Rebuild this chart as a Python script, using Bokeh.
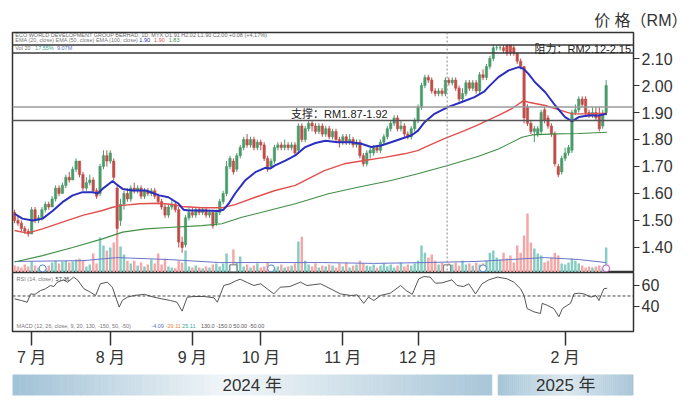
from bokeh.plotting import figure
from bokeh.layouts import column
from bokeh.models import Range1d, FixedTicker, Span, Label, ColumnDataSource, NumeralTickFormatter
from bokeh.embed import file_html
from bokeh.resources import INLINE

FONT = "Liberation Sans, Noto Sans CJK SC, sans-serif"
TXT = "#333333"

# ---------------- data ----------------
opens = [1.53,1.50,1.49,1.47,1.46,1.45,1.54,1.50,1.51,1.54,1.56,1.55,1.58,1.62,1.60,1.63,1.66,1.65,1.69,1.72,
         1.67,1.62,1.64,1.65,1.61,1.60,1.70,1.74,1.72,1.72,1.62,1.50,1.56,1.60,1.58,1.62,1.61,1.62,1.59,1.61,
         1.60,1.61,1.59,1.57,1.55,1.52,1.55,1.56,1.54,1.42,1.41,1.51,1.53,1.52,1.54,1.53,1.54,1.52,1.53,1.49,
         1.53,1.57,1.60,1.70,1.72,1.69,1.74,1.77,1.80,1.78,1.80,1.77,1.79,1.78,1.73,1.70,1.72,1.77,1.78,1.77,
         1.78,1.77,1.78,1.76,1.85,1.80,1.84,1.86,1.85,1.83,1.85,1.82,1.84,1.81,1.83,1.80,1.79,1.81,1.79,1.80,
         1.78,1.79,1.74,1.71,1.75,1.75,1.77,1.76,1.79,1.81,1.84,1.86,1.88,1.84,1.85,1.82,1.81,1.84,1.87,1.92,
         2.00,2.03,2.02,1.98,1.97,1.98,1.97,2.02,2.01,2.02,1.99,1.95,1.97,2.01,1.99,2.01,1.98,2.04,2.03,2.07,
         2.10,2.14,2.14,2.14,2.15,2.15,2.14,2.12,2.09,2.07,1.92,1.86,1.83,1.82,1.83,1.91,1.88,1.85,1.82,1.70,
         1.68,1.73,1.75,1.76,1.90,1.91,1.95,1.95,1.90,1.89,1.90,1.89,1.85,1.90]
highs = [1.54,1.52,1.50,1.48,1.47,1.55,1.55,1.52,1.55,1.57,1.57,1.59,1.63,1.63,1.64,1.67,1.68,1.70,1.73,1.72,
         1.68,1.66,1.67,1.66,1.62,1.71,1.76,1.76,1.76,1.73,1.63,1.58,1.61,1.62,1.63,1.64,1.63,1.63,1.62,1.62,
         1.62,1.62,1.60,1.58,1.56,1.56,1.58,1.57,1.55,1.44,1.52,1.55,1.55,1.55,1.55,1.55,1.55,1.54,1.54,1.54,
         1.58,1.61,1.72,1.74,1.73,1.75,1.78,1.81,1.82,1.81,1.81,1.80,1.80,1.79,1.74,1.73,1.78,1.79,1.79,1.80,
         1.79,1.79,1.79,1.86,1.86,1.85,1.87,1.87,1.86,1.86,1.86,1.85,1.85,1.84,1.84,1.81,1.82,1.82,1.82,1.81,
         1.80,1.80,1.75,1.76,1.77,1.78,1.78,1.80,1.82,1.85,1.87,1.89,1.89,1.87,1.86,1.83,1.85,1.88,1.93,2.01,
         2.04,2.04,2.03,1.99,1.99,1.99,2.03,2.03,2.03,2.03,2.00,1.99,2.02,2.02,2.02,2.02,2.05,2.06,2.08,2.11,
         2.15,2.15,2.15,2.15,2.15,2.15,2.15,2.12,2.10,2.07,1.93,1.87,1.85,1.85,1.91,1.92,1.89,1.86,1.83,1.71,
         1.74,1.77,1.78,1.91,1.93,1.96,1.96,1.96,1.91,1.92,1.92,1.92,1.91,2.02]
lows = [1.49,1.48,1.46,1.45,1.44,1.45,1.49,1.49,1.50,1.53,1.54,1.55,1.57,1.59,1.60,1.62,1.64,1.65,1.68,1.66,
        1.61,1.61,1.63,1.60,1.58,1.59,1.69,1.70,1.71,1.65,1.45,1.48,1.54,1.57,1.57,1.60,1.60,1.58,1.58,1.59,
        1.59,1.58,1.56,1.54,1.51,1.51,1.54,1.53,1.40,1.38,1.40,1.50,1.51,1.51,1.52,1.52,1.51,1.51,1.47,1.48,
        1.52,1.56,1.59,1.69,1.67,1.68,1.73,1.76,1.77,1.77,1.76,1.76,1.76,1.72,1.68,1.69,1.71,1.76,1.76,1.76,
        1.76,1.76,1.74,1.75,1.79,1.79,1.83,1.83,1.82,1.82,1.81,1.81,1.80,1.80,1.79,1.77,1.78,1.78,1.78,1.77,
        1.77,1.73,1.70,1.70,1.73,1.74,1.75,1.75,1.78,1.80,1.83,1.85,1.83,1.83,1.81,1.80,1.80,1.83,1.86,1.91,
        1.99,2.01,1.97,1.96,1.96,1.96,1.96,2.00,2.00,1.98,1.94,1.94,1.96,1.98,1.98,1.97,1.97,2.02,2.02,2.06,
        2.09,2.13,2.13,2.12,2.11,2.11,2.11,2.08,2.06,1.86,1.85,1.82,1.79,1.81,1.82,1.86,1.84,1.81,1.70,1.66,
        1.67,1.72,1.74,1.75,1.89,1.90,1.92,1.89,1.88,1.88,1.87,1.83,1.84,1.89]
closes = [1.50,1.49,1.47,1.46,1.45,1.54,1.50,1.51,1.54,1.56,1.55,1.58,1.62,1.60,1.63,1.66,1.65,1.69,1.72,1.67,
          1.62,1.64,1.65,1.61,1.59,1.70,1.74,1.72,1.75,1.66,1.47,1.56,1.60,1.58,1.62,1.61,1.62,1.59,1.61,1.60,
          1.61,1.59,1.57,1.55,1.52,1.55,1.56,1.54,1.42,1.40,1.51,1.53,1.52,1.54,1.53,1.54,1.52,1.53,1.48,1.53,
          1.57,1.60,1.70,1.73,1.68,1.74,1.77,1.80,1.78,1.80,1.77,1.79,1.78,1.73,1.69,1.72,1.77,1.78,1.77,1.78,
          1.77,1.78,1.75,1.85,1.80,1.84,1.86,1.85,1.83,1.85,1.82,1.84,1.81,1.83,1.80,1.79,1.81,1.79,1.80,1.78,
          1.79,1.74,1.71,1.75,1.76,1.77,1.76,1.79,1.81,1.84,1.86,1.88,1.84,1.85,1.82,1.81,1.84,1.87,1.92,2.00,
          2.03,2.02,1.98,1.97,1.98,1.97,2.02,2.01,2.02,1.99,1.95,1.97,2.01,1.99,2.01,1.98,2.04,2.03,2.07,2.10,
          2.14,2.14,2.14,2.13,2.12,2.12,2.12,2.09,2.07,1.88,1.86,1.83,1.84,1.84,1.90,1.87,1.85,1.82,1.71,1.67,
          1.73,1.75,1.77,1.90,1.91,1.95,1.93,1.90,1.89,1.90,1.88,1.84,1.89,2.00]
volumes = [2.5,2.2,1.8,2.9,2.2,4.0,2.5,1.8,2.2,1.5,2.5,3.6,4.3,3.3,4.0,4.3,3.6,4.0,4.7,5.1,
           4.3,2.2,2.9,6.9,3.3,12.7,9.8,8.0,9.1,10.9,14.1,9.4,6.5,4.3,3.3,4.3,2.5,3.6,2.2,2.9,
           4.7,3.3,6.9,2.9,5.1,2.2,1.8,1.5,4.3,3.6,8.0,2.2,1.8,2.5,1.8,1.5,2.2,1.8,2.9,3.3,
           2.2,3.3,6.9,2.9,8.3,3.6,5.8,2.2,2.9,1.8,2.5,3.3,1.8,2.2,3.6,2.5,1.8,2.2,2.9,1.8,
           2.2,2.5,3.3,11.2,13.0,4.3,2.9,2.2,3.3,1.8,2.5,2.2,2.9,2.5,1.8,3.3,2.2,3.6,1.8,2.5,
           2.9,4.3,3.3,2.5,2.2,2.9,1.8,2.5,3.3,2.2,2.9,1.8,2.5,3.6,2.2,2.9,2.5,3.3,4.3,9.8,
           7.2,5.4,6.5,4.3,2.9,3.6,2.5,3.3,2.9,3.6,2.5,4.3,2.9,3.3,2.5,3.6,2.9,3.3,4.3,7.2,
           8.0,5.4,4.7,7.2,5.1,6.2,3.6,9.8,7.2,13.4,21.4,10.9,8.7,6.9,6.2,3.6,4.3,5.4,7.2,6.2,
           3.3,2.9,3.6,5.1,4.3,3.3,2.5,1.8,2.2,1.8,2.2,2.5,1.8,9.07]

ema20_x = [0,2.3,5.3,8.2,11.1,14,17,19.9,22.8,24.3,25.7,28.7,29.6,31.6,34.5,38.4,42.3,45,48,49.4,
           50.9,54.8,59.6,61.1,62.6,64.5,67.4,70.4,73.3,74.8,76.2,79.2,82.1,85,88,90.9,94.5,98.4,101.4,104.3,
           107.2,110.1,113.1,116,118,119.9,122.8,126.7,130.6,134.5,137.4,138.6,141.5,144.5,147.4,148.8,150.3,152.2,155.2,158.1,
           161,163,165,167.9,170.8,173.2]
ema20_y = [1.525,1.507,1.500,1.507,1.535,1.568,1.593,1.605,1.605,1.600,1.617,1.646,1.636,1.617,1.611,1.611,1.593,1.586,1.562,1.540,
           1.537,1.537,1.535,1.540,1.562,1.600,1.648,1.679,1.695,1.693,1.704,1.722,1.741,1.772,1.787,1.795,1.790,1.790,1.784,1.772,
           1.778,1.790,1.803,1.815,1.833,1.864,1.895,1.920,1.938,1.957,1.978,1.995,2.031,2.056,2.068,2.062,2.043,2.012,1.975,1.926,
           1.883,1.867,1.883,1.889,1.889,1.895]
ema50_x = [0,3.8,8.2,14,19.9,25.7,28.7,31.6,36.5,42.3,46.2,48.9,54.8,60.6,64.5,70.4,76.2,82.1,88,90.6,
           96.4,102.3,108.2,114,117.9,119.9,125.7,131.6,135.7,137.4,141.5,145.4,148.8,150.3,155.2,160,163,166.9,173.2]
ema50_y = [1.463,1.453,1.469,1.494,1.519,1.537,1.549,1.556,1.562,1.564,1.559,1.552,1.547,1.547,1.559,1.586,1.611,1.630,1.668,1.685,
           1.710,1.722,1.734,1.747,1.759,1.771,1.803,1.833,1.855,1.865,1.889,1.914,1.944,1.938,1.926,1.907,1.895,1.895,1.897]
ema100_x = [0,8.2,17,25.7,31.6,38.4,46.2,54.8,60.6,66.5,74.3,82.1,91.8,100.4,110.1,117.9,126.7,135.7,141.5,148.4,
            151.3,158.1,165,173.2]
ema100_y = [1.346,1.370,1.400,1.432,1.457,1.469,1.475,1.481,1.488,1.512,1.537,1.562,1.599,1.623,1.648,1.673,1.704,1.738,1.765,1.808,
            1.817,1.821,1.822,1.827]

volma_x = [0,20,30,45,60,75,90,105,120,135,145,155,165,173]
volma_y = [4.0,4.3,5.4,4.7,3.6,3.6,3.6,3.3,3.6,4.0,4.7,5.4,4.7,3.6]

rsi_x = [0,2,3.7,4.7,6,7.6,9,10.5,11.5,12.5,14.4,15.5,17.3,18.5,20.3,22,23.7,25.1,27.1,28.6,
         29.6,30.6,31.5,33,35,38,40.7,43,45.6,47.5,49,50.5,52.5,55.5,58.3,59.3,61.2,63,64.6,66,
         68.1,70,72,73.9,75.8,77.7,80.5,83.6,85.5,89.5,93.4,95.3,98.3,100.2,102.1,103.5,105.1,107,109.9,112.9,
         114.5,116.3,118.2,119.7,121.5,123.1,125,127.9,129.4,131.3,132.8,133.8,134.8,136.7,138.7,141.2,144,146,148,149,
         149.9,151.9,153.8,154.3,155.8,157.7,159.2,160.2,161.6,162.6,163.6,165,166.5,168.5,170,170.9,172.3,173.3]
rsi_v = [47.3,45.7,44.1,52.0,51.6,55.2,56.8,60.0,59.0,63.2,65.4,63.0,68.0,65.0,56.8,54.0,50.5,61.6,63.2,58.4,
         48.9,39.4,45.7,48.9,50.5,51.6,48.9,47.3,45.7,44.1,35.6,48.9,49.5,49.5,48.3,44.1,60.0,61.6,64.3,66.0,
         62.7,60.0,61.6,56.8,52.0,58.4,59.0,63.2,60.0,61.6,55.2,52.0,50.5,51.0,43.0,48.9,45.7,50.5,52.7,60.0,
         55.2,51.6,66.3,68.5,68.0,62.2,62.5,65.4,60.0,59.0,61.6,57.0,52.0,61.6,65.4,68.0,66.4,63.2,56.8,50.5,
         38.0,34.9,33.3,43.0,41.1,38.0,30.2,38.0,41.1,43.0,52.0,52.7,52.0,48.9,50.5,45.7,56.8,57.4]

price_ticks = [1.40, 1.50, 1.60, 1.70, 1.80, 1.90, 2.00, 2.10]
rsi_ticks = [40, 60]
month_ticks = [5, 28, 52, 72, 96, 118, 161]
month_labels = ["7 月", "8 月", "9 月", "10 月", "11 月", "12 月", "2 月"]
resistance = [2.12, 2.15]
support = [1.87, 1.92]
marker_x = [8.2, 64, 75, 126.5, 137, 173]
marker_kind = ["circle", "square", "circle", "square", "circle", "circle"]
marker_color = ["#5b7fd0", "#777777", "#5b7fd0", "#777777", "#5b7fd0", "#c050c0"]
event_line_x = 126.5
year_labels = ["2024 年", "2025 年"]
year_start = [-0.6, 141.4]
year_end = [139.6, 181.0]

assert len(opens) == len(highs) == len(lows) == len(closes) == len(volumes)

# ---------------- derived ----------------
idx = list(range(len(closes)))
up = [c >= o for o, c in zip(opens, closes)]
ccol = ["#4a9a6a" if u else "#c04d48" for u in up]
vcol = ["#86ccc3" if u else "#f4a7a6" for u in up]
src = ColumnDataSource(dict(
    x=idx, h=highs, l=lows,
    top=[max(o, c) for o, c in zip(opens, closes)],
    bot=[min(o, c) for o, c in zip(opens, closes)],
    col=ccol, vol=volumes, vcol=vcol))

x_rng = Range1d(-0.6, 181.0)


def base_style(f):
    f.grid.visible = False
    f.background_fill_color = "white"
    f.border_fill_color = "white"
    f.outline_line_color = "#333333"
    f.outline_line_width = 1.5


def right_axis(ax, ticks):
    ax.ticker = FixedTicker(ticks=ticks)
    ax.axis_line_color = None
    ax.major_tick_line_color = TXT
    ax.major_tick_line_width = 1.2
    ax.major_tick_out = 6
    ax.major_tick_in = 0
    ax.minor_tick_line_color = None
    ax.major_label_standoff = 2
    ax.major_label_text_font = FONT
    ax.major_label_text_font_size = "16px"
    ax.major_label_text_color = TXT


# ---------------- price + volume ----------------
p = figure(width=690, height=272, x_range=x_rng, y_range=Range1d(1.3074, 2.1963),
           output_backend="svg", toolbar_location=None,
           x_axis_location=None, y_axis_location="right",
           min_border_left=12, min_border_right=57, min_border_top=32, min_border_bottom=0)
base_style(p)
p.extra_y_ranges = {"vol": Range1d(0, 87)}
right_axis(p.yaxis[0], price_ticks)
p.yaxis[0].formatter = NumeralTickFormatter(format="0.00")

p.title.text = "价 格（RM）"
p.title.align = "right"
p.title.offset = -54
p.title.standoff = 8
p.title.text_font = FONT
p.title.text_font_size = "16px"
p.title.text_font_style = "normal"
p.title.text_color = TXT

# volume
p.vbar(x="x", width=0.72, top="vol", bottom=0, y_range_name="vol",
       fill_color="vcol", line_color=None, source=src)
p.line(volma_x, volma_y, y_range_name="vol", line_color="#6a73c8", line_width=1)
for mx, mk, mc in zip(marker_x, marker_kind, marker_color):
    p.scatter([mx], [1.5], marker=mk, size=7, y_range_name="vol",
              fill_color="white", line_color=mc, line_width=1)

# bands
for lvl in resistance:
    p.add_layout(Span(location=lvl, dimension="width", line_color="#3a3a3a", line_width=1.5))
p.add_layout(Span(location=support[1], dimension="width", line_color="#9a9a9a", line_width=1.5))
p.add_layout(Span(location=support[0], dimension="width", line_color="#555555", line_width=1.5))
p.add_layout(Span(location=event_line_x, dimension="height", line_color="#8a8a8a",
                  line_width=1, line_dash="2 2"))

# candles
p.segment(x0="x", y0="h", x1="x", y1="l", line_color="col", line_width=1, source=src)
p.vbar(x="x", width=0.68, top="top", bottom="bot", fill_color="col", line_color="col",
       line_width=0.6, source=src)

# moving averages
p.line(ema100_x, ema100_y, line_color="#3f8f45", line_width=1.1)
p.line(ema50_x, ema50_y, line_color="#e0504e", line_width=1.4)
p.line(ema20_x, ema20_y, line_color="#2b2fbf", line_width=2)

# band labels
p.add_layout(Label(x=95, y=sum(support) / 2, text="支撑：RM1.87-1.92", text_align="center",
                   text_baseline="middle", text_font=FONT, text_font_size="11px", text_color="#222222"))
p.add_layout(Label(x=180.3, y=sum(resistance) / 2, text="阻力：RM2.12-2.15", text_align="right",
                   text_baseline="middle", text_font=FONT, text_font_size="11px", text_color="#222222"))

# header lines
hdr = dict(text_font=FONT, text_font_size="5.5px", text_baseline="middle")
p.add_layout(Label(x=0.2, y=2.186, text="ECO WORLD DEVELOPMENT GROUP BERHAD, 1D, MYX   O1.91  H2.02  L1.90  C2.00  +0.08 (+4.17%)",
                   text_color="#666666", **hdr))
p.add_layout(Label(x=0.2, y=2.169, text="EMA (20, close)  EMA (50, close)  EMA (100, close)",
                   text_color="#777777", **hdr))
p.add_layout(Label(x=36.5, y=2.169, text="1.90", text_color="#2b2fbf", **hdr))
p.add_layout(Label(x=40.8, y=2.169, text="1.90", text_color="#e0504e", **hdr))
p.add_layout(Label(x=45.1, y=2.169, text="1.83", text_color="#3f8f45", **hdr))
p.add_layout(Label(x=0.2, y=2.139, text="Vol 20", text_color="#777777", **hdr))
p.add_layout(Label(x=6.0, y=2.139, text="17.55%", text_color="#3aa79a", **hdr))
p.add_layout(Label(x=12.4, y=2.139, text="9.07M", text_color="#5b6fc0", **hdr))

# ---------------- RSI / MACD panel ----------------
r = figure(width=690, height=100, x_range=x_rng, y_range=Range1d(16.19, 72.38),
           output_backend="svg", toolbar_location=None, y_axis_location="right",
           min_border_left=12, min_border_right=57, min_border_top=0, min_border_bottom=41)
base_style(r)
right_axis(r.yaxis[0], rsi_ticks)
xa = r.xaxis[0]
xa.ticker = FixedTicker(ticks=month_ticks)
xa.major_label_overrides = {t: lab for t, lab in zip(month_ticks, month_labels)}
xa.axis_line_color = None
xa.major_tick_line_color = TXT
xa.major_tick_line_width = 1.5
xa.major_tick_out = 14
xa.major_tick_in = 0
xa.minor_tick_line_color = None
xa.major_label_standoff = 3
xa.major_label_text_font = FONT
xa.major_label_text_font_size = "16px"
xa.major_label_text_color = TXT

r.add_layout(Span(location=50, dimension="width", line_color="#444444", line_width=1, line_dash="3 2"))
r.line(rsi_x, rsi_v, line_color="#555555", line_width=1)
r.add_layout(Label(x=0.6, y=66.2, text="RSI (14, close)", text_color="#777777", **hdr))
r.add_layout(Label(x=12.0, y=66.2, text="57.36", text_color="#333333", **hdr))
r.add_layout(Label(x=0.6, y=21.9, text="MACD (12, 26, close, 9, 20, 130, -150, 50, -50)",
                   text_color="#777777", **hdr))
r.add_layout(Label(x=40.0, y=21.9, text="-4.09", text_color="#5b6fc0", **hdr))
r.add_layout(Label(x=44.2, y=21.9, text="-29.11", text_color="#e08a3a", **hdr))
r.add_layout(Label(x=49.0, y=21.9, text="25.11", text_color="#3aa79a", **hdr))
r.add_layout(Label(x=54.5, y=21.9, text="130.0   -150.0   50.00   -50.00", text_color="#555555", **hdr))

# ---------------- year band ----------------
yf = figure(width=690, height=31, x_range=x_rng, y_range=Range1d(0, 1),
            output_backend="svg", toolbar_location=None,
            x_axis_location=None, y_axis_location=None,
            min_border_left=12, min_border_right=57, min_border_top=2, min_border_bottom=8)
yf.grid.visible = False
yf.outline_line_color = None
yf.background_fill_color = "white"
yf.border_fill_color = "white"

stops_by_year = [
    [(0.0, (160, 193, 214)), (0.45, (242, 246, 248)), (1.0, (168, 198, 216))],
    [(0.0, (164, 196, 215)), (0.5, (220, 232, 239)), (1.0, (168, 198, 216))],
]


def grad(t, stops):
    for (t0, c0), (t1, c1) in zip(stops[:-1], stops[1:]):
        if t <= t1:
            f = (t - t0) / (t1 - t0)
            return "#%02x%02x%02x" % tuple(int(round(a + (b - a) * f)) for a, b in zip(c0, c1))
    return "#%02x%02x%02x" % stops[-1][1]


N = 70
for s, e, stops, lab in zip(year_start, year_end, stops_by_year, year_labels):
    w = (e - s) / N
    lefts = [s + k * w for k in range(N)]
    rights = [s + (k + 1) * w for k in range(N)]
    cols = [grad((k + 0.5) / N, stops) for k in range(N)]
    yf.quad(left=lefts, right=rights, bottom=0, top=1, fill_color=cols, line_color=cols, line_width=0.6)
    yf.add_layout(Label(x=(s + e) / 2, y=0.5, text=lab, text_align="center", text_baseline="middle",
                        text_font=FONT, text_font_size="17px", text_color=TXT))

layout = column(p, r, yf, spacing=0)
open("out.html", "w").write(file_html(layout, INLINE))
